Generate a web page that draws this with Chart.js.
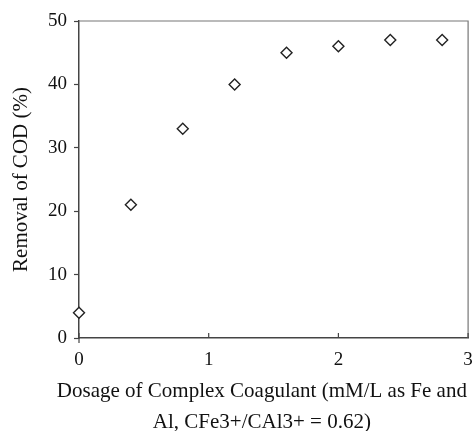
<!DOCTYPE html>
<html>
<head>
<meta charset="utf-8">
<script src="https://cdn.jsdelivr.net/npm/chart.js@4/dist/chart.umd.min.js"></script>
<style>
  html, body { margin: 0; padding: 0; background: #fff; }
  #wrap { width: 475px; height: 431px; }
</style>
</head>
<body>
<div id="wrap"><canvas id="chart"></canvas></div>
<script>
// data
const dosage = [0, 0.4, 0.8, 1.2, 1.6, 2.0, 2.4, 2.8];
const codRemoval = [4, 21, 33, 40, 45, 46, 47, 47];
const xTicks = [0, 1, 2, 3];
const yTicks = [0, 10, 20, 30, 40, 50];
const xTitle = ['Dosage of Complex Coagulant (mM/L as Fe and', 'Al, CFe3+/CAl3+ = 0.62)'];
const yTitle = 'Removal of COD (%)';

const serif = '"Liberation Serif", "DejaVu Serif", serif';

// frame, inward x ticks and axis titles
const extras = {
    id: 'extras',
    afterDraw(chart) {
        const { ctx, chartArea: a, scales } = chart;
        ctx.save();
        // top and right frame
        ctx.strokeStyle = '#777';
        ctx.lineWidth = 1.2;
        ctx.beginPath();
        ctx.moveTo(a.left, a.top);
        ctx.lineTo(a.right, a.top);
        ctx.lineTo(a.right, a.bottom);
        ctx.stroke();
        // x ticks pointing up into the plot
        ctx.strokeStyle = '#444';
        ctx.beginPath();
        scales.x.ticks.forEach((t, i) => {
            const px = scales.x.getPixelForTick(i);
            ctx.moveTo(px, a.bottom - 5);
            ctx.lineTo(px, i === 0 ? a.bottom + 5 : a.bottom);
        });
        ctx.stroke();
        // titles
        ctx.fillStyle = '#111';
        ctx.font = '21px ' + serif;
        ctx.textAlign = 'center';
        ctx.textBaseline = 'middle';
        const cx = a.left + a.width * 0.47;
        xTitle.forEach((line, i) => ctx.fillText(line, cx, a.bottom + 53 + i * 31));
        ctx.translate(21, (a.top + a.bottom) / 2);
        ctx.rotate(-Math.PI / 2);
        ctx.fillText(yTitle, 0, 0);
        ctx.restore();
    }
};

new Chart(document.getElementById('chart'), {
    type: 'scatter',
    data: {
        datasets: [{
            data: dosage.map((x, i) => ({ x: x, y: codRemoval[i] })),
            pointStyle: 'rectRot',
            pointRadius: 5.5,
            pointBorderWidth: 1.4,
            pointBorderColor: '#222',
            pointBackgroundColor: '#fff',
            clip: false
        }]
    },
    options: {
        responsive: true,
        maintainAspectRatio: false,
        animation: false,
        layout: { padding: { top: 21, right: 1, left: 0, bottom: 0 } },
        plugins: { legend: { display: false }, tooltip: { enabled: false } },
        scales: {
            x: {
                type: 'linear',
                min: 0,
                max: 3,
                afterBuildTicks: s => { s.ticks = xTicks.map(v => ({ value: v })); },
                afterFit: s => { s.height = 93; s.paddingRight = 0; s.paddingLeft = 0; },
                grid: { drawOnChartArea: false, drawTicks: false },
                border: { color: '#444', width: 1.5 },
                ticks: { color: '#111', font: { family: serif, size: 19 }, padding: 11, maxRotation: 0 }
            },
            y: {
                min: 0,
                max: 50,
                afterBuildTicks: s => { s.ticks = yTicks.map(v => ({ value: v })); },
                afterFit: s => { s.width = 79; },
                grid: { drawOnChartArea: false, tickLength: 5, color: '#444', tickWidth: 1.2 },
                border: { color: '#444', width: 1.5 },
                ticks: { color: '#111', font: { family: serif, size: 19 }, padding: 7 }
            }
        }
    },
    plugins: [extras]
});
</script>
</body>
</html>
